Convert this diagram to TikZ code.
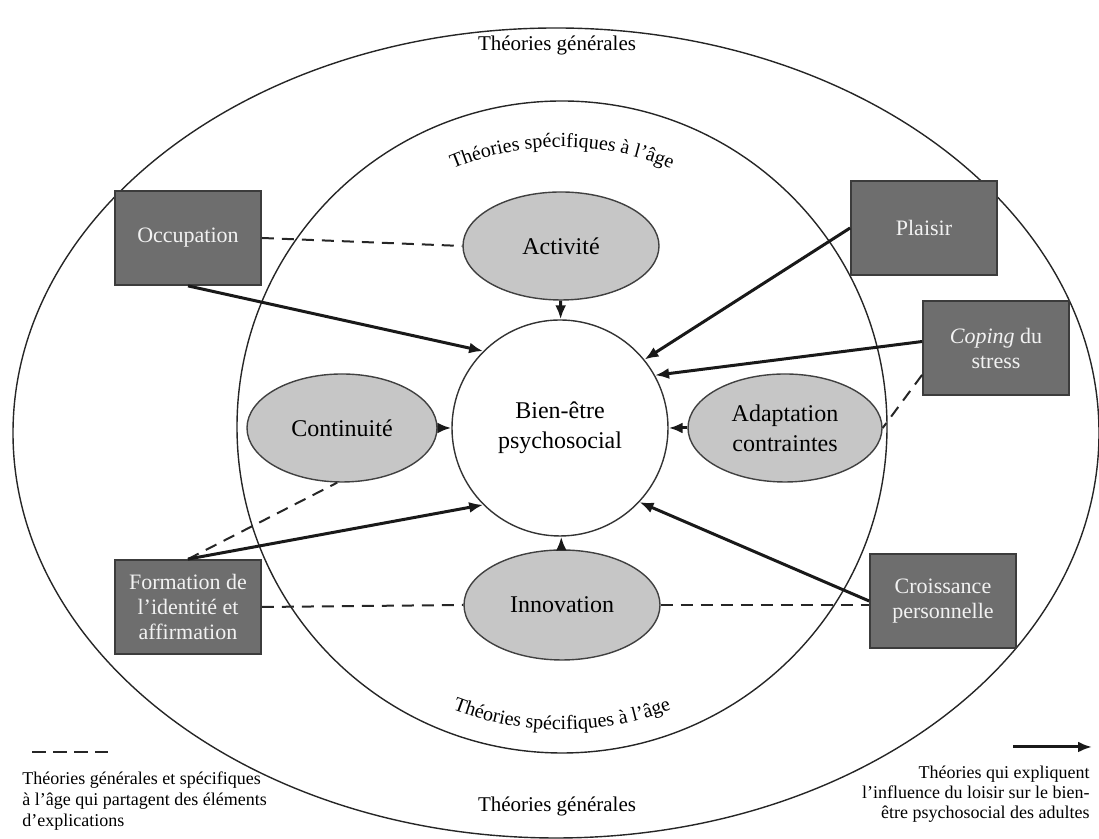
\documentclass[tikz,border=0pt]{standalone}
\usepackage{fontspec}
\setmainfont{Liberation Serif}
\usepackage{xcolor}
\definecolor{boxgray}{HTML}{6E6E6E}
\definecolor{boxedge}{HTML}{3C3C3C}
\definecolor{boxtext}{HTML}{F2F2F2}
\definecolor{ovalgray}{HTML}{C6C6C6}
\usepackage{tikz}
\usetikzlibrary{shapes.geometric,arrows.meta,decorations.text,calc}

\begin{document}
\begin{tikzpicture}[x=0.5pt, y=0.5pt,
  ring/.style={ellipse, draw=black!85, line width=0.7pt, inner sep=0pt},
  theo/.style={ellipse, draw=black!75, fill=ovalgray, line width=0.7pt,
    align=center, inner sep=0pt, font=\fontsize{12}{15}\selectfont},
  boite/.style={rectangle, draw=boxedge, fill=boxgray, line width=0.9pt,
    minimum width=73pt, minimum height=47pt, text=boxtext, align=center,
    font=\fontsize{11}{12.5}\selectfont},
  fleche/.style={-{Latex[length=7pt,width=5.5pt]}, black!90, line width=1.5pt},
  partage/.style={black!85, line width=1pt, dash pattern=on 6pt off 4pt},
  arctexte/.style={decorate, decoration={text along path, text align=center,
    text={|\fontsize{10}{12}\selectfont|#1}}}]

  \useasboundingbox (0,0) rectangle (1099,839);

  % Les deux niveaux de theories
  \node[ring, minimum width=543pt, minimum height=405pt] (general) at (556,406) {};
  \node[ring, minimum width=325pt, minimum height=326pt] (specifique) at (562,412) {};
  \node[font=\fontsize{10.5}{12}\selectfont] (gentop) at (557,794) {Théories générales};
  \node[font=\fontsize{10.5}{12}\selectfont] (genbas) at (557,33) {Théories générales};
  \path[arctexte={Théories spécifiques à l’âge}]
    ($(specifique.center)+(118:280)$) arc[start angle=118, end angle=62, radius=280];
  \path[arctexte={Théories spécifiques à l’âge}]
    ($(specifique.center)+(240:303)$) arc[start angle=240, end angle=300, radius=303];

  % Centre et theories specifiques
  \node[circle, draw=black!80, fill=white, line width=0.7pt, minimum size=108pt,
    align=center, font=\fontsize{12}{15}\selectfont] (bien) at (560,411) {Bien-être\\psychosocial};
  \node[theo, minimum width=98pt, minimum height=54pt] (activite) at (561,593) {Activité};
  \node[theo, minimum width=95pt, minimum height=54pt] (continuite) at (342,411) {Continuité};
  \node[theo, minimum width=97pt, minimum height=54pt] (adaptation) at (785,411) {Adaptation\\contraintes};
  \node[theo, minimum width=98pt, minimum height=55pt] (innovation) at (562,234) {Innovation};

  % Theories generales
  \node[boite] (occupation) at (188,601) {Occupation};
  \node[boite] (plaisir) at (924,611) {Plaisir};
  \node[boite] (coping) at (996,491) {\textit{Coping} du\\stress};
  \node[boite] (formation) at (188,232) {Formation de\\l’identité et\\affirmation};
  \node[boite] (croissance) at (943,238) {Croissance\\personnelle};

  % Elements d'explication partages
  \draw[partage] (occupation.east) -- (activite.west);
  \draw[partage] (formation.north) -- (continuite.265);
  \draw[partage] (formation.east) -- (innovation.west);
  \draw[partage] (innovation.east) -- (innovation.east -| croissance.west);
  \draw[partage] (coping.200) -- (adaptation.east);

  % Influence du loisir sur le bien-etre
  \foreach \a/\b in {occupation.south/bien.135, activite/bien, plaisir.west/bien.39,
      coping.175/bien.29, adaptation/bien, continuite/bien, innovation/bien,
      formation.north/bien.225, croissance.west/bien.-43}
    \draw[fleche] (\a) -- (\b);

  % Legende
  \coordinate (tiretA) at (32,87);
  \coordinate (tiretB) at (108,87);
  \draw[partage, line width=1.1pt, dash pattern=on 7pt off 3.5pt] (tiretA) -- (tiretB);
  \node[anchor=north west, align=left, inner sep=0pt,
    font=\fontsize{9}{10.5}\selectfont] (legtiret) at (22,68)
    {Théories générales et spécifiques\\à l’âge qui partagent des éléments\\d’explications};
  \coordinate (flecheA) at (1013,92);
  \coordinate (flecheB) at (1092,92);
  \draw[fleche] (flecheA) -- (flecheB);
  \node[anchor=north east, align=right, inner sep=0pt,
    font=\fontsize{9}{10}\selectfont] (legfleche) at (1090,73)
    {Théories qui expliquent\\l’influence du loisir sur le bien-\\être psychosocial des adultes};
\end{tikzpicture}
\end{document}
